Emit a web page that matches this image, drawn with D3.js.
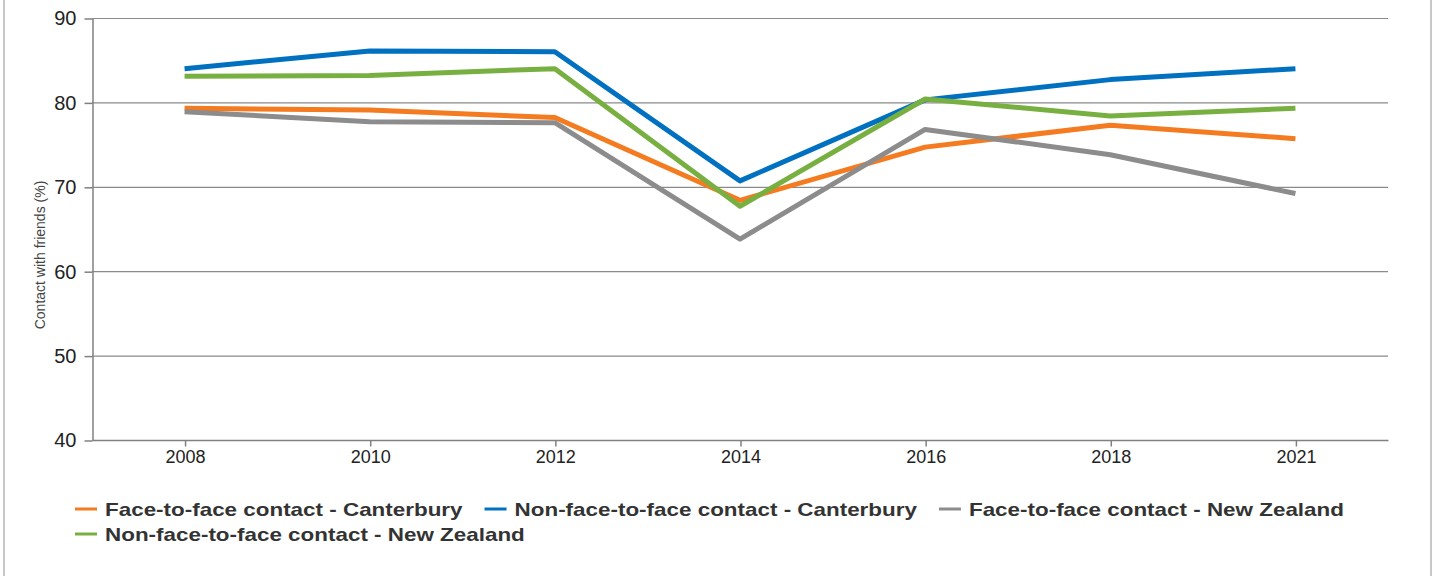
<!DOCTYPE html>
<html>
<head>
<meta charset="utf-8">
<script src="https://cdn.jsdelivr.net/npm/d3@7"></script>
<style>
  body { margin: 0; background: #fff; }
  text { font-family: "Liberation Sans", Arial, sans-serif; }
</style>
</head>
<body>
<div id="chart"></div>
<script>
// Data
const years = ["2008", "2010", "2012", "2014", "2016", "2018", "2021"];
const seriesNames = [
  "Face-to-face contact - Canterbury",
  "Non-face-to-face contact - Canterbury",
  "Face-to-face contact - New Zealand",
  "Non-face-to-face contact - New Zealand"
];
const faceCanterbury = [79.3, 79.1, 78.2, 68.4, 74.7, 77.3, 75.7];
const nonFaceCanterbury = [84.0, 86.1, 86.0, 70.7, 80.3, 82.7, 84.0];
const faceNZ = [78.9, 77.7, 77.6, 63.8, 76.8, 73.8, 69.2];
const nonFaceNZ = [83.1, 83.2, 84.0, 67.7, 80.4, 78.4, 79.3];
const yTicks = [40, 50, 60, 70, 80, 90];
const colors = ["#f47b20", "#0070c0", "#8c8c8c", "#77b041"];

const allSeries = [faceCanterbury, nonFaceCanterbury, faceNZ, nonFaceNZ];

// Constants
let width = 1436;
let height = 576;
let plot = { left: 92, right: 1388, top: 18, bottom: 440 };

let svg = d3.select("#chart")
  .append("svg")
    .attr("width", width)
    .attr("height", height);

// frame
svg.append("rect")
  .attr("x", 4).attr("y", -10)
  .attr("width", 1427).attr("height", height + 20)
  .attr("fill", "none")
  .attr("stroke", "#c8c8c8")
  .attr("stroke-width", 2);

let x = d3.scalePoint()
  .domain(years)
  .range([plot.left, plot.right])
  .padding(0.5);

let y = d3.scaleLinear()
  .domain([40, 90])
  .range([plot.bottom, plot.top]);

// Gridlines
svg.append("g")
  .selectAll("line")
  .data(yTicks.filter(d => d > 40))
  .enter().append("line")
    .attr("x1", plot.left)
    .attr("x2", plot.right)
    .attr("y1", d => y(d) + 0.5)
    .attr("y2", d => y(d) + 0.5)
    .attr("stroke", "#8a8a8a")
    .attr("stroke-width", 1.2);

// Y axis
let yAxis = svg.append("g")
  .attr("transform", `translate(${plot.left + 0.5},0.5)`)
  .call(d3.axisLeft(y).tickValues(yTicks).tickSize(8).tickPadding(8).tickSizeOuter(0));
yAxis.select(".domain").attr("stroke", "#808080").attr("stroke-width", 1.5);
yAxis.selectAll(".tick line").attr("stroke", "#808080").attr("stroke-width", 1.5);
yAxis.selectAll(".tick text")
  .attr("font-size", 20)
  .attr("fill", "#222")
  .style("font-family", "'Liberation Sans', Arial, sans-serif");

// X axis
let xAxis = svg.append("g")
  .attr("transform", `translate(0.5,${plot.bottom + 0.5})`)
  .call(d3.axisBottom(x).tickSize(6).tickPadding(4).tickSizeOuter(0));
xAxis.select(".domain")
  .attr("d", `M${plot.left},0H${plot.right}`)
  .attr("stroke", "#808080").attr("stroke-width", 1.5);
xAxis.selectAll(".tick line").attr("stroke", "#808080").attr("stroke-width", 1.5);
xAxis.selectAll(".tick text")
  .attr("font-size", 18)
  .attr("fill", "#222")
  .style("font-family", "'Liberation Sans', Arial, sans-serif");

// Y title
svg.append("text")
  .attr("transform", `translate(45, 255) rotate(-90)`)
  .attr("text-anchor", "middle")
  .attr("font-size", 14)
  .attr("fill", "#444")
  .text("Contact with friends (%)");

// Lines
let line = d3.line()
  .x((d, i) => x(years[i]))
  .y(d => y(d));

svg.append("g")
  .selectAll("path")
  .data(allSeries)
  .enter().append("path")
    .attr("d", d => line(d))
    .attr("fill", "none")
    .attr("stroke", (d, i) => colors[i])
    .attr("stroke-width", 5)
    .attr("stroke-linejoin", "round");

// Legend (flowing layout, text stretched a bit wider like the original)
let legend = svg.append("g");
let lx = 75, ly = 509;
seriesNames.forEach((name, i) => {
  let g = legend.append("g");
  g.append("line")
    .attr("x1", 0).attr("x2", 22)
    .attr("stroke", colors[i])
    .attr("stroke-width", 3);
  let t = g.append("text")
    .attr("x", 30)
    .attr("y", 6.5)
    .attr("font-size", 19)
    .attr("font-weight", "bold")
    .attr("fill", "#333")
    .text(name);
  let tw = t.node().getComputedTextLength() * 1.18;
  t.attr("textLength", tw).attr("lengthAdjust", "spacingAndGlyphs");
  let w = 30 + tw;
  if (lx + w > 1390) { lx = 75; ly += 25; }
  g.attr("transform", `translate(${lx},${ly})`);
  lx += w + 22;
});
</script>
</body>
</html>
